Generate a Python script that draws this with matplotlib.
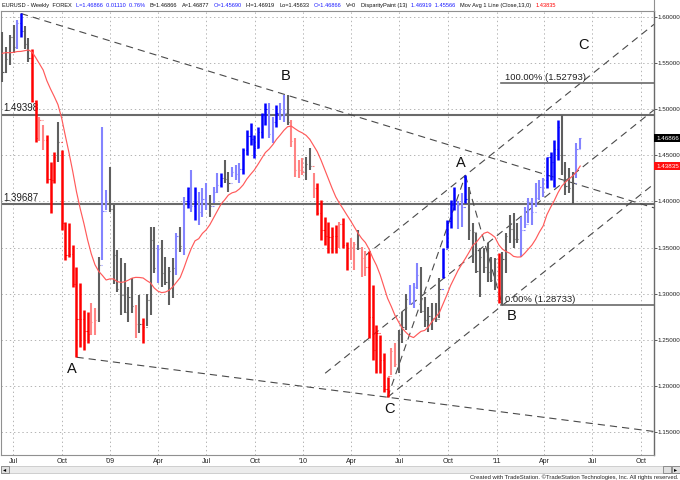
import numpy as np
import pandas as pd
import matplotlib
matplotlib.use('Agg')
import matplotlib.pyplot as plt
import matplotlib.dates as mdates
from matplotlib.transforms import blended_transform_factory
from matplotlib.patches import Rectangle

plt.rcParams['font.family'] = ['Liberation Sans', 'DejaVu Sans']
plt.rcParams['lines.scale_dashes'] = False

# ---------------- data (EURUSD weekly) ----------------
first_week = '2008-06-11'
highs = [1.5840, 1.5670, 1.5800, 1.5910, 1.5970, 1.6038, 1.5900, 1.5770, 1.5650, 1.5100,
         1.4920, 1.4830, 1.4720, 1.4430, 1.4540, 1.4860, 1.4560, 1.3780, 1.3770, 1.3530,
         1.3290, 1.3110, 1.2820, 1.2800, 1.2900, 1.2840, 1.3400, 1.4810, 1.4120, 1.4370,
         1.3960, 1.3470, 1.3390, 1.3330, 1.3070, 1.3170, 1.2880, 1.2980, 1.2730, 1.3000,
         1.3720, 1.3720, 1.3530, 1.3580, 1.3400, 1.3290, 1.3390, 1.3660, 1.3720, 1.4050,
         1.4160, 1.4340, 1.4160, 1.4100, 1.4150, 1.4200, 1.4070, 1.4160, 1.4310, 1.4310,
         1.4450, 1.4320, 1.4370, 1.4400, 1.4420, 1.4580, 1.4770, 1.4850, 1.4720, 1.4810,
         1.4960, 1.5070, 1.5070, 1.4910, 1.5050, 1.5070, 1.5150, 1.5150, 1.4880, 1.4690,
         1.4450, 1.4470, 1.4480, 1.4580, 1.4310, 1.4200, 1.4010, 1.3830, 1.3780, 1.3720,
         1.3740, 1.3780, 1.3820, 1.3560, 1.3600, 1.3560, 1.3690, 1.3510, 1.3460, 1.3460,
         1.3090, 1.2660, 1.2550, 1.2360, 1.2100, 1.2410, 1.2460, 1.2600, 1.2800, 1.3000,
         1.3090, 1.3110, 1.3330, 1.3290, 1.2960, 1.2850, 1.2900, 1.2900, 1.3170, 1.3500,
         1.3800, 1.4020, 1.4160, 1.4000, 1.4090, 1.4282, 1.4160, 1.3770, 1.3660, 1.3500,
         1.3500, 1.3550, 1.3400, 1.3390, 1.3440, 1.3450, 1.3660, 1.3850, 1.3870, 1.3770,
         1.3830, 1.3940, 1.4040, 1.4040, 1.4200, 1.4230, 1.4250, 1.4480, 1.4540, 1.4670,
         1.4880, 1.4940, 1.4430, 1.4360, 1.4320, 1.4630, 1.46919]
lows = [1.5290, 1.5390, 1.5480, 1.5610, 1.5650, 1.5780, 1.5650, 1.5510, 1.5080, 1.4640,
        1.4650, 1.4560, 1.4200, 1.3870, 1.4200, 1.4430, 1.3690, 1.3360, 1.3400, 1.3070,
        1.2310, 1.2420, 1.2390, 1.2460, 1.2550, 1.2550, 1.2690, 1.3360, 1.3910, 1.3890,
        1.3100, 1.3020, 1.2770, 1.2790, 1.2690, 1.2790, 1.2520, 1.2570, 1.2460, 1.2650,
        1.2770, 1.3220, 1.3110, 1.3070, 1.3090, 1.2880, 1.2950, 1.3200, 1.3450, 1.3420,
        1.3930, 1.3890, 1.3800, 1.3740, 1.3830, 1.3910, 1.3830, 1.3980, 1.4090, 1.4160,
        1.4200, 1.4100, 1.4260, 1.4230, 1.4200, 1.4300, 1.4500, 1.4610, 1.4470, 1.4580,
        1.4690, 1.4830, 1.4690, 1.4630, 1.4810, 1.4880, 1.4860, 1.4830, 1.4590, 1.4260,
        1.4250, 1.4290, 1.4230, 1.4340, 1.4040, 1.3850, 1.3580, 1.3530, 1.3440, 1.3440,
        1.3440, 1.3500, 1.3490, 1.3260, 1.3360, 1.3260, 1.3470, 1.3180, 1.3190, 1.2520,
        1.2280, 1.2140, 1.2140, 1.1930, 1.1876, 1.2120, 1.2200, 1.2140, 1.2460, 1.2600,
        1.2880, 1.2840, 1.3050, 1.2790, 1.2640, 1.2580, 1.2600, 1.2690, 1.2740, 1.3170,
        1.3500, 1.3710, 1.3910, 1.3700, 1.3720, 1.3980, 1.3580, 1.3330, 1.3220, 1.2960,
        1.3220, 1.3130, 1.3130, 1.3040, 1.2900, 1.28733, 1.3220, 1.3550, 1.3490, 1.3550,
        1.3400, 1.3710, 1.3770, 1.3740, 1.3940, 1.4020, 1.4050, 1.4140, 1.4230, 1.4160,
        1.4450, 1.4290, 1.4070, 1.4090, 1.39687, 1.4250, 1.45633]
closes = [1.5400, 1.5540, 1.5780, 1.5680, 1.5930, 1.5850, 1.5710, 1.5550, 1.5090, 1.4690,
          1.4880, 1.4670, 1.4240, 1.4230, 1.4480, 1.4640, 1.3770, 1.3420, 1.3430, 1.3100,
          1.2720, 1.2720, 1.2590, 1.2560, 1.2690, 1.2710, 1.3310, 1.3900, 1.4000, 1.3920,
          1.3420, 1.3050, 1.2990, 1.2800, 1.2960, 1.2870, 1.2670, 1.2670, 1.2640, 1.2930,
          1.3580, 1.3280, 1.3480, 1.3220, 1.3130, 1.3240, 1.3280, 1.3620, 1.3520, 1.4000,
          1.4150, 1.3950, 1.3990, 1.3880, 1.4030, 1.3970, 1.3950, 1.4100, 1.4180, 1.4250,
          1.4240, 1.4200, 1.4320, 1.4300, 1.4350, 1.4560, 1.4710, 1.4680, 1.4580, 1.4750,
          1.4950, 1.5000, 1.4730, 1.4860, 1.4960, 1.4930, 1.4960, 1.4860, 1.4650, 1.4340,
          1.4340, 1.4320, 1.4410, 1.4380, 1.4140, 1.3870, 1.3690, 1.3630, 1.3610, 1.3630,
          1.3630, 1.3750, 1.3530, 1.3500, 1.3510, 1.3540, 1.3500, 1.3390, 1.3290, 1.2750,
          1.2390, 1.2570, 1.2280, 1.1970, 1.2110, 1.2380, 1.2240, 1.2560, 1.2640, 1.2940,
          1.2900, 1.3070, 1.3200, 1.2810, 1.2710, 1.2760, 1.2740, 1.2720, 1.3050, 1.3480,
          1.3790, 1.3960, 1.4000, 1.3960, 1.3940, 1.4030, 1.3690, 1.3670, 1.3240, 1.3400,
          1.3290, 1.3230, 1.3150, 1.3380, 1.2910, 1.3380, 1.3620, 1.3700, 1.3590, 1.3590,
          1.3690, 1.3750, 1.3990, 1.3890, 1.4040, 1.4160, 1.4230, 1.4480, 1.4430, 1.4570,
          1.4810, 1.4500, 1.4170, 1.4140, 1.4200, 1.4569, 1.46866]
first_open = 1.5750
paint = ['G', 'G', 'G', 'G', 'LB', 'B', 'G', 'G', 'R', 'R',
         'LR', 'LR', 'R', 'R', 'R', 'G', 'R', 'R', 'R', 'R',
         'R', 'R', 'R', 'R', 'LR', 'LR', 'G', 'LB', 'LB', 'G',
         'G', 'G', 'G', 'G', 'G', 'G', 'LR', 'G', 'R', 'G',
         'G', 'G', 'LB', 'G', 'G', 'G', 'G', 'LB', 'G', 'LB',
         'B', 'LB', 'B', 'LB', 'LB', 'LB', 'G', 'LB', 'LB', 'B',
         'G', 'G', 'LB', 'LB', 'LB', 'B', 'B', 'B', 'B', 'B',
         'B', 'B', 'LB', 'LB', 'B', 'LB', 'LB', 'G', 'LR', 'LR',
         'LR', 'LR', 'G', 'G', 'LR', 'R', 'R', 'R', 'R', 'R',
         'R', 'LR', 'R', 'R', 'LR', 'LR', 'G', 'LR', 'LR', 'R',
         'R', 'R', 'R', 'R', 'R', 'LR', 'LR', 'G', 'G', 'G',
         'LB', 'LB', 'LB', 'G', 'G', 'G', 'G', 'G', 'G', 'B',
         'B', 'B', 'B', 'LB', 'LB', 'B', 'G', 'G', 'G', 'G',
         'G', 'G', 'G', 'G', 'R', 'G', 'G', 'G', 'G', 'G',
         'LB', 'LB', 'LB', 'LB', 'LB', 'LB', 'LB', 'B', 'B', 'B',
         'B', 'G', 'G', 'G', 'G', 'LB', 'LB']
# closes of the 12 weeks before the chart (for the 13-week average)
warmup_closes = [1.5440, 1.5800, 1.5630, 1.5810, 1.5830, 1.5610,
                 1.5450, 1.5370, 1.5490, 1.5760, 1.5530, 1.5760]
ma_length = 13

levels = [1.49398, 1.39687]
price_ticks = [1.15, 1.20, 1.25, 1.30, 1.35, 1.40, 1.45, 1.50, 1.55, 1.60]
date_ticks = ['2008-07-01', '2008-10-01', '2009-01-01', '2009-04-01', '2009-07-01',
              '2009-10-01', '2010-01-01', '2010-04-01', '2010-07-01', '2010-10-01',
              '2011-01-01', '2011-04-01', '2011-07-01', '2011-10-01']
date_labels = ['Jul', 'Oct', "'09", 'Apr', 'Jul', 'Oct', "'10", 'Apr', 'Jul', 'Oct',
               "'11", 'Apr', 'Jul', 'Oct']

# wave points (bar indices)
top_bar, peak_b_bar, low_a_bar = 5, 77, 20
low_c_bar, peak_a_bar, low_b_bar = 104, 125, 135

# ---------------- derived ----------------
n = len(closes)
dates = mdates.date2num(pd.Timestamp(first_week) + pd.to_timedelta(np.arange(n) * 7, unit='D'))
opens = [first_open] + closes[:-1]
ma = pd.Series(warmup_closes + closes).rolling(ma_length).mean().iloc[len(warmup_closes):].values

col = {'G': '#5f5f5f', 'B': '#0000ff', 'LB': '#8484ff', 'R': '#ff0000', 'LR': '#ff8484'}
lwd = {'G': 1.5, 'B': 1.8, 'LB': 1.5, 'R': 1.8, 'LR': 1.5}

W, H = 680, 480
fig = plt.figure(figsize=(6.8, 4.8), dpi=100)
ax = fig.add_axes([1 / W, 25 / H, 653 / W, 444 / H])

jul1 = mdates.date2num(pd.Timestamp('2008-07-01'))
ppd = 0.5291  # pixels per day
x_left = jul1 - 12 / ppd
x_right = jul1 + 641 / ppd
ax.set_xlim(x_left, x_right)
ax.set_ylim(1.60 - (455 - 17) / 922, 1.60 + 6 / 922)

# grid
for d in date_ticks:
    ax.axvline(mdates.date2num(pd.Timestamp(d)), color='#b4b4b4', lw=0.7,
               ls=(0, (1, 2)), zorder=0)
for p in price_ticks:
    ax.axhline(p, color='#b4b4b4', lw=0.7, ls=(0, (1, 2)), zorder=0)

# level lines
for lv in levels:
    ax.axhline(lv, color='#6a6a6a', lw=1.5, zorder=1)
    ax.annotate(f'{lv:.5f}', xy=(0.004, lv), xycoords=('axes fraction', 'data'),
                xytext=(0, 1.2), textcoords='offset points', ha='left', va='bottom',
                fontsize=7, color='#202020')

# dashed trend lines
def dline(d0, p0, d1, p1, start=None, end=None):
    slope = (p1 - p0) / (d1 - d0)
    xs = d0 if start is None else start
    xe = d1 if end is None else end
    ax.plot([xs, xe], [p0 + slope * (xs - d0), p0 + slope * (xe - d0)],
            color='#4a4a4a', lw=0.8, dashes=(5.2, 3.6), zorder=2)
    return slope

dline(dates[top_bar], highs[top_bar], dates[peak_b_bar], highs[peak_b_bar], end=x_right)
dline(dates[low_a_bar], lows[low_a_bar], dates[low_c_bar], lows[low_c_bar], end=x_right)
ch = dline(dates[low_c_bar], lows[low_c_bar], dates[low_b_bar], lows[low_b_bar], end=x_right)
# upper channel through wave A high
up_start = jul1 + 665
ax.plot([up_start, x_right],
        [highs[peak_a_bar] + ch * (up_start - dates[peak_a_bar]),
         highs[peak_a_bar] + ch * (x_right - dates[peak_a_bar])],
        color='#4a4a4a', lw=0.8, dashes=(5.2, 3.6), zorder=2)
# median channel line
mid_start = jul1 + 590
mid_price_at_a = 1.3354
ax.plot([mid_start, x_right],
        [mid_price_at_a + ch * (mid_start - dates[peak_a_bar]),
         mid_price_at_a + ch * (x_right - dates[peak_a_bar])],
        color='#4a4a4a', lw=0.8, dashes=(5.2, 3.6), zorder=2)
dline(dates[low_c_bar], lows[low_c_bar], dates[peak_a_bar], highs[peak_a_bar])
dline(dates[peak_a_bar], highs[peak_a_bar], dates[low_b_bar], lows[low_b_bar])

# fibonacci projection lines
fib0 = lows[low_b_bar]
fib100 = lows[low_b_bar] + (highs[peak_a_bar] - lows[low_c_bar])
for fv, lab in [(fib100, '100.00%'), (fib0, '0.00%')]:
    ax.plot([dates[low_b_bar] - 3, x_right], [fv, fv], color='#6a6a6a', lw=1.2, zorder=2)
    ax.annotate(f'{lab} ({fv:.5f})', xy=(dates[low_b_bar], fv), xytext=(2, 1.0),
                textcoords='offset points', ha='left', va='bottom', fontsize=6.8,
                color='#202020', zorder=6)

# bars
tick = 2.2
for i in range(n):
    c = col[paint[i]]
    ax.vlines(dates[i], lows[i], highs[i], color=c, lw=lwd[paint[i]], zorder=3)
    ax.hlines(opens[i], dates[i] - tick, dates[i], color=c, lw=0.8, zorder=3)
    ax.hlines(closes[i], dates[i], dates[i] + tick, color=c, lw=0.8, zorder=3)

# moving average
ax.plot(dates, ma, color='#ff5a5a', lw=0.85, zorder=4)

# wave labels
lk = dict(textcoords='offset points', ha='center', va='center', fontsize=10.5,
          color='#101010', zorder=7)
ax.annotate('A', xy=(dates[low_a_bar], lows[low_a_bar]), xytext=(-3.2, -8.6), **lk)
ax.annotate('B', xy=(dates[peak_b_bar], highs[peak_b_bar]), xytext=(-1.2, 13.7), **lk)
ax.annotate('C', xy=(dates[low_c_bar], lows[low_c_bar]), xytext=(1.7, -8.8), **lk)
ax.annotate('A', xy=(dates[peak_a_bar], highs[peak_a_bar]), xytext=(-3.2, 9.0), **lk)
ax.annotate('B', xy=(dates[low_b_bar], lows[low_b_bar]), xytext=(6.9, -8.0), **lk)
c_day = dates[peak_a_bar] + (fib100 - highs[peak_a_bar]) / ch
ax.annotate('C', xy=(c_day, fib100), xytext=(2.2, 28.0), **lk)

# axes styling
for s in ['top', 'left', 'bottom']:
    ax.spines[s].set_color('#909090')
    ax.spines[s].set_linewidth(0.8)
ax.spines['right'].set_color('#6a6a6a')
ax.spines['right'].set_linewidth(1.0)
ax.yaxis.tick_right()
ax.set_yticks(price_ticks)
ax.set_yticklabels([f'{p:.5f}' for p in price_ticks])
ax.tick_params(axis='y', length=2.0, width=0.6, color='#404040', pad=0.8,
               labelsize=4.5, labelcolor='#202020')
ax.set_xticks([mdates.date2num(pd.Timestamp(d)) for d in date_ticks])
ax.set_xticklabels(date_labels)
ax.tick_params(axis='x', length=0, pad=2.5, labelsize=5.0, labelcolor='#202020')

# price boxes on right axis
bt = blended_transform_factory(ax.transAxes, ax.transData)
ax.text(1.0035, closes[-1], f'{closes[-1]:.5f}', transform=bt, ha='left', va='center',
        fontsize=4.5, color='white', clip_on=False,
        bbox=dict(boxstyle='square,pad=0.3', fc='black', ec='none'))
ax.text(1.0035, ma[-1], f'{ma[-1]:.5f}', transform=bt, ha='left', va='center',
        fontsize=4.5, color='white', clip_on=False,
        bbox=dict(boxstyle='square,pad=0.3', fc='#ff1010', ec='none'))

# header: laid out left to right, spread to the reference's extent
blue, black, red = '#1a1aff', '#101010', '#ff0000'
header = [('EURUSD - Weekly  FOREX', black),
          ('L=1.46866  0.01110  0.76%', blue),
          ('B=1.46866', black), ('A=1.46877', black),
          ('O=1.45690', blue), ('Hi=1.46919', black),
          ('Lo=1.45633', black), ('C=1.46866', blue),
          ('V=0', black), ('DisparityPaint (13)', black),
          ('1.46919  1.45566', blue),
          ('Mov Avg 1 Line (Close,13,0)', black),
          ('1.43835', red)]
renderer = fig.canvas.get_renderer()
htexts, widths = [], []
for t, c in header:
    ht = fig.text(0, 1 - 5.5 / H, t, ha='left', va='center', fontsize=4.1, color=c)
    htexts.append(ht)
    widths.append(ht.get_window_extent(renderer).width)
x_start, x_end = 2.0, 556.0
gap = (x_end - x_start - sum(widths)) / (len(widths) - 1)
xp = x_start
for ht, w in zip(htexts, widths):
    ht.set_x(xp / W)
    xp += w + gap
fig.add_artist(plt.Line2D([653.5 / W, 653.5 / W], [1 - 11 / H, 1], color='#909090', lw=0.8))

# scroll bar and footer
def frect(x0, y0, x1, y1, fc, ec):
    fig.add_artist(Rectangle((x0 / W, 1 - y1 / H), (x1 - x0) / W, (y1 - y0) / H,
                             transform=fig.transFigure, fc=fc, ec=ec, lw=0.6))

frect(0.5, 465.5, 679.5, 473, '#ececec', '#c8c8c8')
frect(0.5, 465.5, 8.5, 473, '#e0e0e0', '#808080')
frect(663, 465.5, 671, 473, '#e0e0e0', '#808080')
frect(671.5, 465.5, 679.5, 473, '#e0e0e0', '#808080')
fig.text(4.5 / W, 1 - 469.3 / H, '\u25c2', ha='center', va='center', fontsize=4.5,
         family='DejaVu Sans')
fig.text(675.5 / W, 1 - 469.3 / H, '\u25b8', ha='center', va='center', fontsize=4.5,
         family='DejaVu Sans')
fig.text(678 / W, 1 - 476.8 / H,
         'Created with TradeStation. \u00a9TradeStation Technologies, Inc. All rights reserved.',
         ha='right', va='center', fontsize=4.2, color='#202020')

fig.savefig('out.png', dpi=100, facecolor='white')
